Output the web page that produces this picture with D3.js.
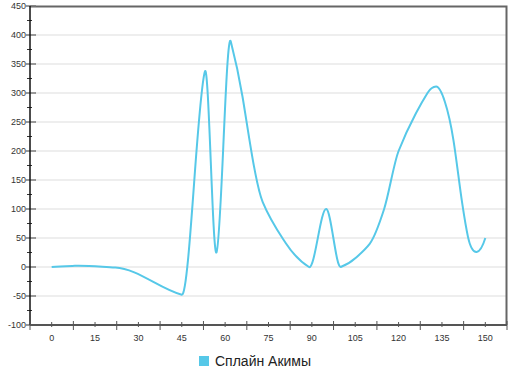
<!DOCTYPE html>
<html>
<head>
<meta charset="utf-8">
<script src="https://cdn.jsdelivr.net/npm/d3@7"></script>
<style>
  body { margin: 0; background: #fff; }
  svg { display: block; font-family: "Liberation Sans", Arial, sans-serif; }
</style>
</head>
<body>
<div id="chart"></div>
<script>
// -------- data --------
const seriesName = "Сплайн Акимы";
const xValues = [0, 8, 22, 45, 53, 57, 62, 66, 70, 73, 81, 89, 95, 100, 105, 110, 115, 120, 126, 130, 133, 136, 139, 142, 144, 147, 150];
const yValues = [0, 2, -1, -48, 337, 25, 388, 294, 173, 112, 41, 0, 100, 0, 15, 40, 100, 200, 265, 300, 311, 285, 218, 110, 52, 26, 50];
const xTicks = [0, 15, 30, 45, 60, 75, 90, 105, 120, 135, 150];
const yTicks = [-100, -50, 0, 50, 100, 150, 200, 250, 300, 350, 400, 450];

const data = xValues.map((x, i) => ({ x: x, y: yValues[i] }));

// -------- akima curve for d3.line --------
function CurveAkima(context) { this._context = context; }
CurveAkima.prototype = {
  areaStart() { this._line = 0; },
  areaEnd() { this._line = NaN; },
  lineStart() { this._x = []; this._y = []; },
  point(x, y) { this._x.push(+x); this._y.push(+y); },
  lineEnd() {
    const X = this._x, Y = this._y, n = X.length, ctx = this._context;
    if (!n) return;
    ctx.moveTo(X[0], Y[0]);
    if (n < 3) { for (let i = 1; i < n; i++) ctx.lineTo(X[i], Y[i]); return; }
    // slopes, two extra on each end
    const m = [];
    for (let i = 0; i < n - 1; i++) m[i + 2] = (Y[i + 1] - Y[i]) / (X[i + 1] - X[i]);
    m[1] = 2 * m[2] - m[3];
    m[0] = 3 * m[2] - 2 * m[3];
    m[n + 1] = 2 * m[n] - m[n - 1];
    m[n + 2] = 3 * m[n] - 2 * m[n - 1];
    const t = [];
    for (let i = 0; i < n; i++) {
      const w1 = Math.abs(m[i + 3] - m[i + 2]);
      const w2 = Math.abs(m[i + 1] - m[i]);
      t[i] = (w1 + w2) < 1e-9 ? (m[i + 1] + m[i + 2]) / 2
        : (w1 * m[i + 1] + w2 * m[i + 2]) / (w1 + w2);
    }
    for (let i = 0; i < n - 1; i++) {
      const h = (X[i + 1] - X[i]) / 3;
      ctx.bezierCurveTo(X[i] + h, Y[i] + t[i] * h,
        X[i + 1] - h, Y[i + 1] - t[i + 1] * h,
        X[i + 1], Y[i + 1]);
    }
  }
};
const curveAkima = context => new CurveAkima(context);

// -------- layout --------
const W = 512, H = 375;
const margin = { top: 6, right: 5, bottom: 50, left: 30 };
const width = W - margin.left - margin.right;
const height = H - margin.top - margin.bottom;

const svg = d3.select("#chart").append("svg")
  .attr("width", W)
  .attr("height", H);

const g = svg.append("g")
  .attr("transform", `translate(${margin.left},${margin.top})`);

const x = d3.scaleLinear().domain([-7.5, 157.5]).range([0, width]);
const y = d3.scaleLinear().domain([-100, 450]).range([height, 0]);

// grid
g.append("g")
  .selectAll("line")
  .data(yTicks.filter(v => v > -100 && v < 450))
  .enter().append("line")
  .attr("x1", 5).attr("x2", width)
  .attr("y1", d => y(d)).attr("y2", d => y(d))
  .attr("stroke", "#e8e8e8")
  .attr("stroke-width", 1.5);

// frame top and right
g.append("path")
  .attr("d", `M0,0.5H${width - 0.5}V${height}`)
  .attr("fill", "none")
  .attr("stroke", "#666")
  .attr("stroke-width", 2);

// y axis
const yMinor = d3.range(-75, 450, 50);
g.append("g").selectAll("line")
  .data(yMinor)
  .enter().append("line")
  .attr("x1", -3).attr("x2", 2)
  .attr("y1", d => y(d)).attr("y2", d => y(d))
  .attr("stroke", "#333").attr("stroke-width", 1);

g.append("g").selectAll("line")
  .data(yTicks)
  .enter().append("line")
  .attr("x1", -4).attr("x2", 6)
  .attr("y1", d => y(d)).attr("y2", d => y(d))
  .attr("stroke", "#777").attr("stroke-width", 1.5);

g.append("line")
  .attr("x1", 0).attr("x2", 0)
  .attr("y1", 0).attr("y2", height)
  .attr("stroke", "#111").attr("stroke-width", 1.5);

g.append("g").selectAll("text")
  .data(yTicks)
  .enter().append("text")
  .attr("x", -4)
  .attr("y", d => y(d))
  .attr("dy", "0.35em")
  .attr("text-anchor", "end")
  .attr("font-size", 9)
  .attr("fill", "#333")
  .text(d => d);

// x axis
const xMajor = d3.range(-7.5, 158, 15);
g.append("g").selectAll("line")
  .data(xMajor)
  .enter().append("line")
  .attr("x1", d => x(d)).attr("x2", d => x(d))
  .attr("y1", height - 4).attr("y2", height + 5)
  .attr("stroke", "#555").attr("stroke-width", 1);

g.append("g").selectAll("line")
  .data(xTicks)
  .enter().append("line")
  .attr("x1", d => x(d)).attr("x2", d => x(d))
  .attr("y1", height - 3).attr("y2", height + 2)
  .attr("stroke", "#555").attr("stroke-width", 1);

g.append("line")
  .attr("x1", 0).attr("x2", width)
  .attr("y1", height).attr("y2", height)
  .attr("stroke", "#555").attr("stroke-width", 2);

g.append("g").selectAll("text")
  .data(xTicks)
  .enter().append("text")
  .attr("x", d => x(d))
  .attr("y", height + 16)
  .attr("text-anchor", "middle")
  .attr("font-size", 9)
  .attr("fill", "#333")
  .text(d => d);

// series line
const line = d3.line()
  .x(d => x(d.x))
  .y(d => y(d.y))
  .curve(curveAkima);

g.append("path")
  .datum(data)
  .attr("d", line)
  .attr("fill", "none")
  .attr("stroke", "#56c8e8")
  .attr("stroke-width", 2);

// legend
const legend = svg.append("g").attr("transform", "translate(199,356)");
legend.append("rect")
  .attr("width", 10).attr("height", 10)
  .attr("fill", "#56c8e8");
legend.append("text")
  .attr("x", 16).attr("y", 10)
  .attr("font-size", 14)
  .attr("fill", "#222")
  .text(seriesName);
</script>
</body>
</html>
